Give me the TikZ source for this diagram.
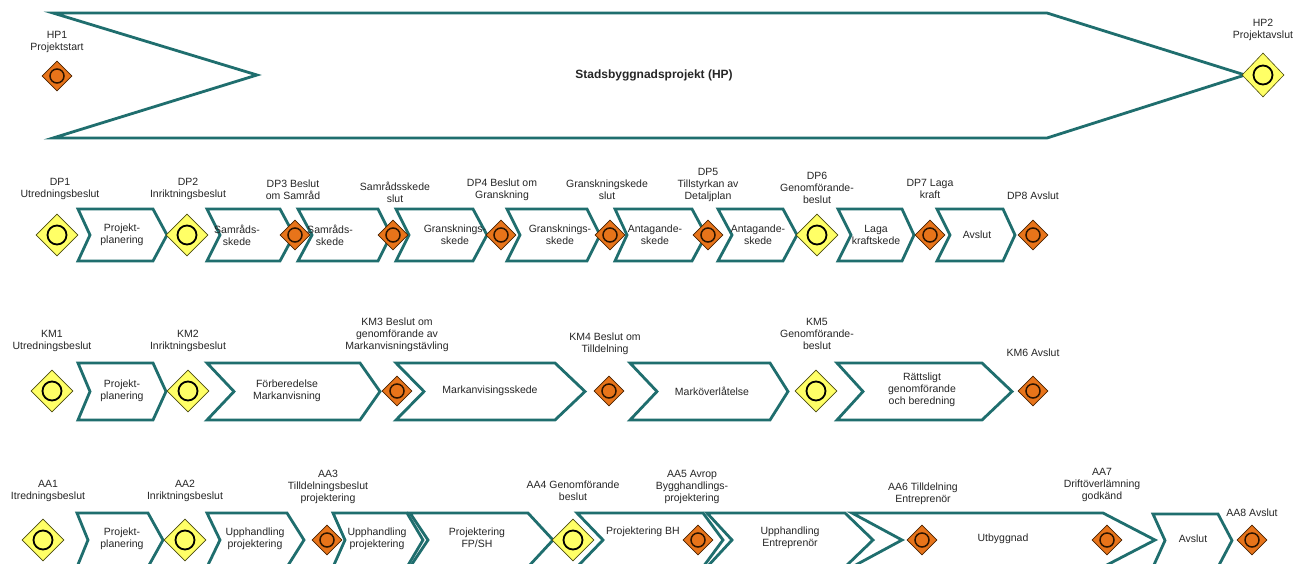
\documentclass[tikz,border=0pt]{standalone}
\usepackage{fontspec}
\setmainfont{Liberation Sans}
\usetikzlibrary{shapes.geometric}
\definecolor{tealline}{HTML}{1F6E6E}
\definecolor{ydiafill}{HTML}{FFFF66}
\definecolor{odiafill}{HTML}{E8741A}
\definecolor{obrd}{HTML}{4A2200}
\definecolor{ybrd}{HTML}{4A4A10}
\newcommand{\chev}[7]{% a, dl, b, dr, top, bot, name
  \draw[chevline] (#1,#5) -- (#3,#5) -- ({#3+#4},{(#5+#6)/2}) -- (#3,#6) -- (#1,#6) -- ({#1+#2},{(#5+#6)/2}) -- cycle;
  \coordinate (#7) at ({(#1+#3)/2},{(#5+#6)/2});}
\newcommand{\ydm}[3]{\node[ydiam] (#1) at (#2,#3) {}; \node[yring] (#1r) at (#1) {};}
\newcommand{\odm}[3]{\node[odiam] (#1) at (#2,#3) {}; \node[oring] (#1r) at (#1) {};}
\tikzset{
  chevline/.style={draw=tealline, line width=2.8pt, fill=white, line join=miter},
  ydiam/.style={diamond, draw=ybrd, fill=ydiafill, minimum width=42pt, minimum height=42pt, inner sep=0pt, line width=0.6pt},
  odiam/.style={diamond, draw=obrd, fill=odiafill, minimum width=30pt, minimum height=30pt, inner sep=0pt, line width=0.6pt},
  yring/.style={circle, draw=black, line width=1.8pt, minimum size=19pt, inner sep=0pt},
  oring/.style={circle, draw=obrd!60!black, line width=1.5pt, minimum size=14pt, inner sep=0pt},
  lbl/.style={align=center, font=\fontsize{10.5}{12}\selectfont, text=black!85, inner sep=0pt},
}
\begin{document}
\begin{tikzpicture}[x=1pt,y=-1pt]
\useasboundingbox (0,0) rectangle (1309,563);
\fill[white] (0,0) rectangle (1309,563);
\clip (0,0) rectangle (1309,563);
% ---------- HP row ----------
\draw[chevline] (53,13) -- (1047,13) -- (1245,75) -- (1047,138) -- (53,138) -- (257,75) -- cycle;
\node[lbl, font=\bfseries\fontsize{12}{14}\selectfont] (hpt) at (654,75) {Stadsbyggnadsprojekt (HP)};
\odm{hp1}{57}{76}
\node[lbl] (hp1l) at (57,42) {HP1\\Projektstart};
\node[ydiam, minimum width=42pt, minimum height=44pt] (hp2) at (1263,75) {}; \node[yring] (hp2r) at (hp2) {};
\node[lbl] (hp2l) at (1263,30) {HP2\\Projektavslut};
% ---------- DP row ----------
\chev{78}{12}{153}{14}{209}{261}{dc1}
\chev{207}{13}{280}{14}{209}{261}{dc2}
\chev{298}{14}{378}{13}{209}{261}{dc3}
\chev{396}{13}{473}{14}{209}{261}{dc4}
\chev{507}{13}{587}{13}{209}{261}{dc5}
\chev{615}{12}{692}{14}{209}{261}{dc6}
\chev{718}{14}{783}{14}{209}{261}{dc7}
\chev{838}{13}{902}{12}{209}{261}{dc8}
\chev{937}{13}{1003}{12}{209}{261}{dc9}
\node[lbl] (dt1) at (122,235) {Projekt-\\planering};
\node[lbl] (dt2) at (237,235) {Samråds-\\skede};
\node[lbl] (dt3) at (330,235) {Samråds-\\skede};
\node[lbl] (dt4) at (455,235) {Gransknings-\\skede};
\node[lbl] (dt5) at (560,235) {Gransknings-\\skede};
\node[lbl] (dt6) at (655,235) {Antagande-\\skede};
\node[lbl] (dt7) at (758,235) {Antagande-\\skede};
\node[lbl] (dt8) at (876,235) {Laga\\kraftskede};
\node[lbl] (dt9) at (977,235) {Avslut};
\ydm{dp1}{57}{235}
\ydm{dp2}{187}{235}
\odm{dp3}{295}{235}
\odm{dps}{393}{235}
\odm{dp4}{501}{235}
\odm{dpg}{610}{235}
\odm{dp5}{708}{235}
\ydm{dp6}{817}{235}
\odm{dp7}{930}{235}
\odm{dp8}{1033}{235}
\node[lbl] (dp1l) at (60,189) {DP1\\Utredningsbeslut};
\node[lbl] (dp2l) at (188,189) {DP2\\Inriktningsbeslut};
\node[lbl] (dp3l) at (293,190) {DP3 Beslut\\om Samråd};
\node[lbl] (dpsl) at (395,192) {Samrådsskede\\slut};
\node[lbl] (dp4l) at (502,190) {DP4 Beslut om\\Granskning};
\node[lbl] (dpgl) at (607,190) {Granskningskede\\slut};
\node[lbl] (dp5l) at (708,185) {DP5\\Tillstyrkan av\\Detaljplan};
\node[lbl] (dp6l) at (817,188) {DP6\\Genomförande-\\beslut};
\node[lbl] (dp7l) at (930,189) {DP7 Laga\\kraft};
\node[lbl] (dp8l) at (1033,196) {DP8 Avslut};
% ---------- KM row ----------
\chev{78}{12}{153}{13}{363}{420}{kc1}
\chev{207}{27}{360}{20}{363}{420}{kc2}
\chev{396}{28}{555}{30}{363}{420}{kc3}
\chev{630}{27}{770}{18}{363}{420}{kc4}
\chev{837}{26}{982}{30}{363}{420}{kc5}
\node[lbl] (kt1) at (122,391) {Projekt-\\planering};
\node[lbl] (kt2) at (287,391) {Förberedelse\\Markanvisning};
\node[lbl] (kt3) at (490,391) {Markanvisingsskede};
\node[lbl] (kt4) at (712,391) {Marköverlåtelse};
\node[lbl] (kt5) at (922,390) {Rättsligt\\genomförande\\och beredning};
\ydm{km1}{52}{391}
\ydm{km2}{188}{391}
\odm{km3}{397}{391}
\odm{km4}{609}{391}
\ydm{km5}{816}{391}
\odm{km6}{1033}{391}
\node[lbl] (km1l) at (52,341) {KM1\\Utredningsbeslut};
\node[lbl] (km2l) at (188,341) {KM2\\Inriktningsbeslut};
\node[lbl] (km3l) at (397,335) {KM3 Beslut om\\genomförande av\\Markanvisningstävling};
\node[lbl] (km4l) at (605,344) {KM4 Beslut om\\Tilldelning};
\node[lbl] (km5l) at (817,334) {KM5\\Genomförande-\\beslut};
\node[lbl] (km6l) at (1033,353) {KM6 Avslut};
% ---------- AA row ----------
\chev{77}{11}{148}{15}{513}{567}{ac1}
\chev{207}{13}{287}{17}{513}{567}{ac2}
\chev{333}{12}{407}{16}{513}{567}{ac3}
\chev{410}{18}{528}{25}{513}{567}{ac4}
\chev{577}{26}{703}{20}{513}{567}{ac5}
\chev{707}{25}{845}{28}{513}{567}{ac6}
\chev{852}{50}{1103}{52}{513}{567}{ac7}
\chev{1153}{12}{1218}{14}{514}{567}{ac8}
\node[lbl] (at1) at (122,539) {Projekt-\\planering};
\node[lbl] (at2) at (255,539) {Upphandling\\projektering};
\node[lbl] (at3) at (377,539) {Upphandling\\projektering};
\node[lbl] (at4) at (477,538) {Projektering\\FP/SH};
\node[lbl] (at5) at (643,532) {Projektering BH};
\node[lbl] (at6) at (790,538) {Upphandling\\Entreprenör};
\node[lbl] (at7) at (1003,539) {Utbyggnad};
\node[lbl] (at8) at (1193,539) {Avslut};
\ydm{aa1}{43}{540}
\ydm{aa2}{185}{540}
\odm{aa3}{327}{540}
\ydm{aa4}{573}{540}
\odm{aa5}{698}{540}
\odm{aa6}{922}{540}
\odm{aa7}{1107}{540}
\odm{aa8}{1252}{540}
\node[lbl] (aa1l) at (48,491) {AA1\\Itredningsbeslut};
\node[lbl] (aa2l) at (185,491) {AA2\\Inriktningsbeslut};
\node[lbl] (aa3l) at (328,487) {AA3\\Tilldelningsbeslut\\projektering};
\node[lbl] (aa4l) at (573,491) {AA4 Genomförande\\beslut};
\node[lbl] (aa5l) at (692,487) {AA5 Avrop\\Bygghandlings-\\projektering};
\node[lbl] (aa6l) at (923,494) {AA6 Tilldelning\\Entreprenör};
\node[lbl] (aa7l) at (1102,485) {AA7\\Driftöverlämning\\godkänd};
\node[lbl] (aa8l) at (1252,513) {AA8 Avslut};
\end{tikzpicture}
\end{document}
